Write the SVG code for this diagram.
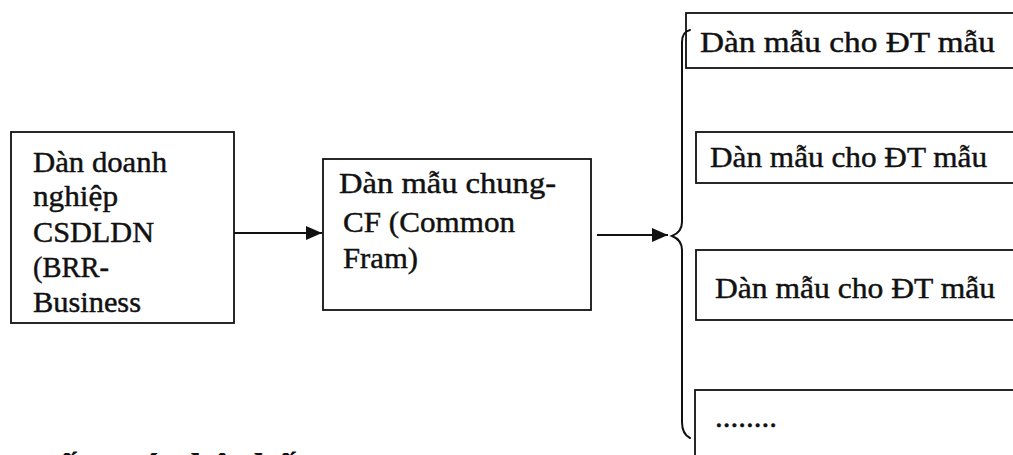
<svg xmlns="http://www.w3.org/2000/svg" width="1013" height="455" viewBox="0 0 1013 455">
  <style>
    .box { fill: #ffffff; stroke: #111111; stroke-width: 1.8; }
    .lbl { font-size: 30px; fill: #111111; stroke: #111111; stroke-width: 0.45; }
    .wire { fill: none; stroke: #111111; stroke-width: 2; }
    .brace { fill: none; stroke: #111111; stroke-width: 2; stroke-linecap: round; }
    .head { font-size: 40px; font-weight: bold; fill: #111111; }
  </style>
  <defs>
    <marker id="arrow" markerUnits="userSpaceOnUse" markerWidth="16" markerHeight="14" refX="16" refY="7" orient="auto">
      <path d="M0,0 L16,7 L0,14 Z" fill="#111111"/>
    </marker>
  </defs>

  <rect width="1013" height="455" fill="#ffffff"/>

  <g font-family="Liberation Serif, Tinos, DejaVu Serif, serif">
    <!-- enterprise frame -->
    <g id="node-enterprise">
      <rect class="box" x="11" y="132" width="223" height="191"/>
      <text class="lbl" x="33" y="172" textLength="134" lengthAdjust="spacingAndGlyphs">Dàn doanh</text>
      <text class="lbl" x="33" y="206" textLength="85" lengthAdjust="spacingAndGlyphs">nghiệp</text>
      <text class="lbl" x="33" y="242" textLength="121" lengthAdjust="spacingAndGlyphs">CSDLDN</text>
      <text class="lbl" x="33" y="277" textLength="76" lengthAdjust="spacingAndGlyphs">(BRR-</text>
      <text class="lbl" x="33" y="312" textLength="108" lengthAdjust="spacingAndGlyphs">Business</text>
    </g>

    <!-- common frame -->
    <g id="node-common">
      <rect class="box" x="323" y="159" width="268" height="151"/>
      <text class="lbl" x="339" y="193" textLength="217" lengthAdjust="spacingAndGlyphs">Dàn mẫu chung-</text>
      <text class="lbl" x="343" y="232" textLength="172" lengthAdjust="spacingAndGlyphs">CF (Common</text>
      <text class="lbl" x="343" y="268" textLength="75" lengthAdjust="spacingAndGlyphs">Fram)</text>
    </g>

    <!-- specific frames, running off the right edge -->
    <g id="node-sample-1">
      <rect class="box" x="686" y="13" width="340" height="55"/>
      <text class="lbl" x="700" y="52" textLength="295" lengthAdjust="spacingAndGlyphs">Dàn mẫu cho ĐT mẫu</text>
    </g>
    <g id="node-sample-2">
      <rect class="box" x="696" y="132" width="330" height="51"/>
      <text class="lbl" x="710" y="167" textLength="277" lengthAdjust="spacingAndGlyphs">Dàn mẫu cho ĐT mẫu</text>
    </g>
    <g id="node-sample-3">
      <rect class="box" x="696" y="250" width="330" height="70"/>
      <text class="lbl" x="715" y="298" textLength="280" lengthAdjust="spacingAndGlyphs">Dàn mẫu cho ĐT mẫu</text>
    </g>
    <g id="node-sample-more">
      <rect class="box" x="695" y="390" width="330" height="90"/>
      <text class="lbl" x="715" y="427" textLength="62" lengthAdjust="spacingAndGlyphs">........</text>
    </g>

    <!-- heading below, cut by the lower edge -->
    <text class="head" x="28" y="481">Cấu trúc hệ thống</text>
  </g>

  <!-- connectors -->
  <g id="connectors">
    <line class="wire" x1="234" y1="233" x2="322" y2="233" marker-end="url(#arrow)"/>
    <line class="wire" x1="597" y1="235" x2="668" y2="235" marker-end="url(#arrow)"/>
    <path class="brace" d="M690,30 Q682,32 682,42 L682,222 Q682,232 672,236 Q682,240 682,250 L682,422 Q682,434 690,438"/>
  </g>
</svg>
